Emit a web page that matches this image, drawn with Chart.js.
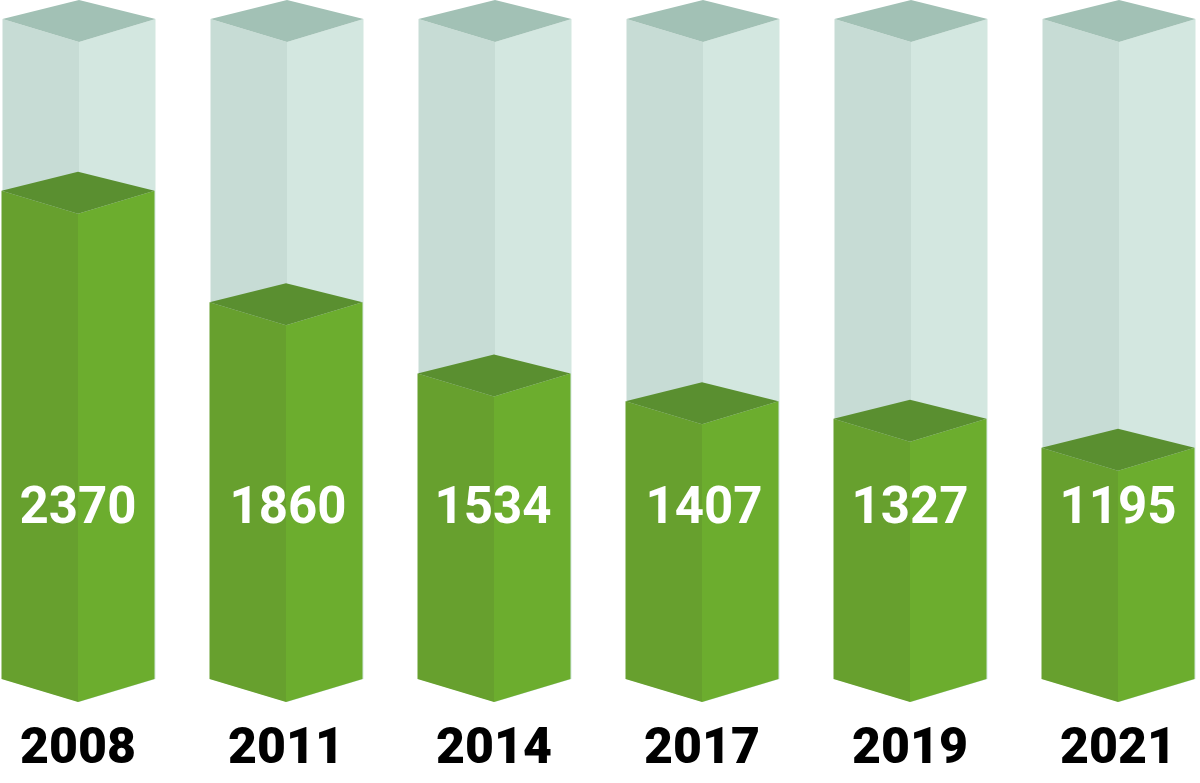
<!DOCTYPE html>
<html>
<head>
<meta charset="utf-8">
<title>3D bars</title>
<script src="https://cdn.jsdelivr.net/npm/chart.js"></script>
<style>
    html, body { margin: 0; padding: 0; background: #ffffff; }
    canvas { display: block; }
</style>
</head>
<body>
<canvas id="barChart" width="1200" height="783"></canvas>
<script>
// Chart data
const years = ['2008', '2011', '2014', '2017', '2019', '2021'];
const values = [2370, 1860, 1534, 1407, 1327, 1195];
const fullHeight = [3155, 3155, 3155, 3155, 3155, 3155];

// Colors for the faces of each box
const glassColors = { left: '#c7dcd5', right: '#d3e7e0', top: '#a2c1b5' };
const solidColors = { left: '#67a02e', right: '#6cad2e', top: '#5a8f30' };

// Box shape in pixels
const sideDrop = 23;   // front edge sits this far below the side edges
const apexRise = 19;   // back corner sits this far above the side edges
const labelY = 510;
const labelNudge = [0, 2, -1, 2, 0, 0];   // value labels are not quite centred in the original

function polygon(ctx, points, color) {
    ctx.beginPath();
    points.forEach((p, i) => i ? ctx.lineTo(p[0], p[1]) : ctx.moveTo(p[0], p[1]));
    ctx.closePath();
    ctx.fillStyle = color;
    ctx.fill();
}

// Draw one box from a bar element
function drawBox(ctx, bar, colors, shift, base) {
    const half = bar.width / 2;
    const cx = bar.x + shift;
    const l = cx - half;
    const r = cx + half;
    const front = bar.y;
    const side = front - sideDrop;

    polygon(ctx, [[l, side], [cx, front], [cx, base], [l, base - sideDrop]], colors.left);
    polygon(ctx, [[cx, front], [r, side], [r, base - sideDrop], [cx, base]], colors.right);
    polygon(ctx, [[l, side], [cx, side - apexRise], [r, side], [cx, front]], colors.top);
}

const boxPlugin = {
    id: 'boxes',
    afterDatasetsDraw(chart) {
        const ctx = chart.ctx;
        const glass = chart.getDatasetMeta(1).data;
        const solid = chart.getDatasetMeta(0).data;
        // Axis does not start at zero, so the boxes stand on the scale minimum
        const base = chart.scales.y.getPixelForValue(chart.scales.y.min);

        ctx.save();
        glass.forEach(bar => drawBox(ctx, bar, glassColors, 1, base));
        solid.forEach(bar => drawBox(ctx, bar, solidColors, 0, base));

        // Value labels sit on one line across all bars
        ctx.font = 'bold 51px Roboto';
        ctx.fillStyle = '#ffffff';
        ctx.textAlign = 'center';
        ctx.textBaseline = 'middle';
        solid.forEach((bar, i) => ctx.fillText(String(values[i]), bar.x + labelNudge[i], labelY));
        ctx.restore();
    }
};

new Chart(document.getElementById('barChart').getContext('2d'), {
    type: 'bar',
    data: {
        labels: years,
        datasets: [
            { label: 'Value', data: values, backgroundColor: 'transparent', barThickness: 153 },
            { label: 'Full', data: fullHeight, backgroundColor: 'transparent', barThickness: 153 }
        ]
    },
    options: {
        responsive: false,
        animation: false,
        layout: { padding: { left: 78, right: 82, top: 42, bottom: 0 } },
        plugins: { legend: { display: false }, tooltip: { enabled: false } },
        scales: {
            x: {
                offset: false,
                grid: { display: false, drawTicks: false },
                border: { display: false },
                ticks: {
                    autoSkip: false,
                    maxRotation: 0,
                    padding: 18,
                    color: '#000000',
                    font: { family: 'Roboto', size: 50, weight: '900' }
                },
                afterFit(scale) { scale.height = 81; }
            },
            y: {
                display: false,
                min: 137,
                max: 3155
            }
        },
        datasets: { bar: { grouped: false } }
    },
    plugins: [boxPlugin]
});
</script>
</body>
</html>
